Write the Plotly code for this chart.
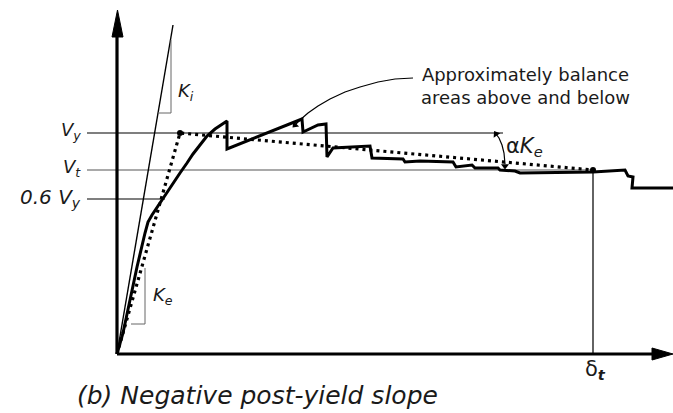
import plotly.graph_objects as go

# Pushover capacity curve (displacement, base shear) in drawing units
disp = [0, 6, 13, 20, 28, 31, 35, 41, 48, 55, 63, 70, 76, 83, 90, 98, 110, 110,
        185, 186, 201, 209, 210, 216, 253, 255, 286, 288, 303, 336, 339, 355, 358,
        381, 383, 398, 403, 476, 508, 511, 516, 515, 556]
shear = [0, 21, 54, 87, 121, 132, 139, 148, 159, 170, 181, 191, 200, 209, 218, 225, 233, 205,
         235, 222, 229, 230, 197, 206, 208, 196, 195, 192, 193, 192, 187, 189, 186,
         186, 184, 183, 181, 182, 184, 178, 177, 166, 166]

# Key quantities
V_y = 221          # effective yield strength
V_t = 184          # shear at target displacement
V_06 = 155         # level used for the effective stiffness secant
delta_y = 63       # effective yield displacement
delta_t = 476      # target displacement

# Idealised bilinear curve
bilin_x = [0, delta_y, delta_t]
bilin_y = [0, V_y, V_t]

# Initial stiffness line
ki_x = [0, 56]
ki_y = [0, 329]

# Stiffness triangles
ki_tri_x = [41, 54, 54]
ki_tri_y = [241, 241, 314]
ke_tri_x = [14, 28, 28]
ke_tri_y = [30, 30, 86]

# Leader for the area-balance note
lead_x = [296, 278, 261, 243, 228, 213, 201, 191, 183, 178]
lead_y = [276, 275, 272, 267, 262, 255, 248, 241, 234, 229]

# Arc for the post-yield slope
arc_x = [379, 382, 385, 387, 388]
arc_y = [220, 216, 209, 201, 190]

# Arrow tips: leader end, arc top, arc bottom (heading in degrees, clockwise from up)
tip_x = [178, 379, 388]
tip_y = [229, 220, 188]
tip_heading = [225, 326, 180]

X_MAX = 556
Y_TOP = 354

fig = go.Figure()

def line(x, y, w=1.0, color="black", dash=None):
    fig.add_trace(go.Scatter(x=x, y=y, mode="lines",
                             line=dict(color=color, width=w, dash=dash),
                             hoverinfo="skip", showlegend=False))

# horizontal reference levels
line([-30, 386], [V_y, V_y], 1.3, "#555555")
line([-30, delta_t], [V_t, V_t], 1.1, "#555555")
line([-30, 48], [V_06, V_06], 1.3, "#555555")

# target displacement marker
line([delta_t, delta_t], [0, V_t], 1.4, "#222222")

# stiffness lines and triangles
line(ki_x, ki_y, 1.4, "black")
line(ki_tri_x, ki_tri_y, 1.0, "#666666")
line(ke_tri_x, ke_tri_y, 1.0, "#666666")

# capacity curve
line(disp, shear, 3.0, "black")

# bilinear idealisation
line(bilin_x, bilin_y, 3.2, "black", "3px,4px")
fig.add_trace(go.Scatter(x=[delta_y, delta_t], y=[V_y, V_t], mode="markers",
                         marker=dict(color="black", size=6),
                         hoverinfo="skip", showlegend=False))

# leader and slope arc with small arrow tips
line(lead_x, lead_y, 1.2, "black")
line(arc_x, arc_y, 1.2, "black")
fig.add_trace(go.Scatter(x=tip_x, y=tip_y, mode="markers",
                         marker=dict(symbol="triangle-up", size=7, color="black",
                                     angle=tip_heading, line=dict(width=0)),
                         hoverinfo="skip", showlegend=False))

# axes with arrowheads
line([0, 0], [0, 317], 3.2, "black")
line([0, 535], [0, 0], 3.2, "black")
fig.add_trace(go.Scatter(x=[-5, 6, 0.5, -5], y=[317, 317, 344, 317], mode="lines",
                         fill="toself", fillcolor="black", line=dict(color="black", width=1),
                         hoverinfo="skip", showlegend=False))
fig.add_trace(go.Scatter(x=[535, 535, 556, 535], y=[6, -6, 0, 6], mode="lines",
                         fill="toself", fillcolor="black", line=dict(color="black", width=1),
                         hoverinfo="skip", showlegend=False))

FONT = "DejaVu Sans, Liberation Sans, sans-serif"
TXT = "#1a1a1a"

def label(x, y, text, size=17, xanchor="left", yanchor="middle"):
    fig.add_annotation(x=x, y=y, text=text, showarrow=False, xanchor=xanchor, yanchor=yanchor,
                       font=dict(family=FONT, size=size, color=TXT))

label(-34, 223, "<i>V<sub>y</sub></i>", 18, "right")
label(-34, 186, "<i>V<sub>t</sub></i>", 18, "right")
label(-34, 156, "<i>0.6 V<sub>y</sub></i>", 20, "right")
label(59, 262, "<i>K<sub>i</sub></i>", 18)
label(34, 58, "<i>K<sub>e</sub></i>", 18)
label(387, 207, "α<i>K<sub>e</sub></i>", 21)
label(delta_t + 2, -16, "δ<sub><b><i>t</i></b></sub>", 21, "center")
label(302, 268, "Approximately balance<br>areas above and below", 18)
label(-42, -41, "<i>(b) Negative post-yield slope</i>", 25)

fig.update_layout(
    width=673, height=413,
    margin=dict(l=0, r=0, t=0, b=0),
    paper_bgcolor="white", plot_bgcolor="white",
    xaxis=dict(range=[-117, X_MAX], visible=False, fixedrange=True),
    yaxis=dict(range=[-59, Y_TOP], visible=False, fixedrange=True),
)

fig.write_html("out.html")
